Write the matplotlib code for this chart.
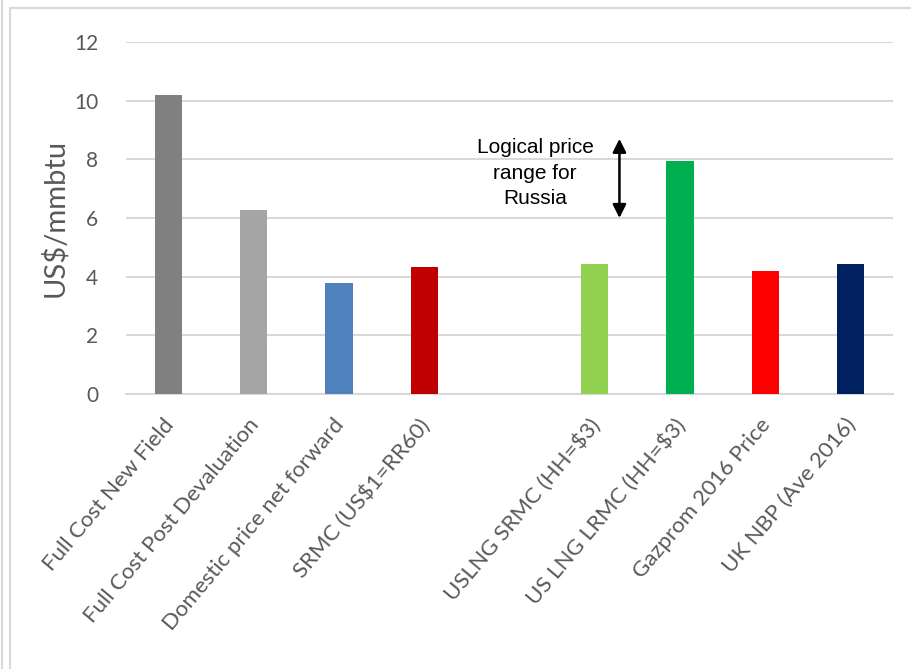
import matplotlib.pyplot as plt
import matplotlib.transforms as mtransforms
from matplotlib.patches import Rectangle
from matplotlib.lines import Line2D

labels = ['Full Cost New Field', 'Full Cost Post Devaluation', 'Domestic price net forward',
          'SRMC (US$1=RR60)', '', 'USLNG SRMC (HH=$3)', 'US LNG LRMC (HH=$3)',
          'Gazprom 2016 Price', 'UK NBP (Ave 2016)']
values = [10.2, 6.28, 3.79, 4.34, 0, 4.44, 7.95, 4.19, 4.44]
colors = ['#808080', '#a5a5a5', '#4f81bd', '#c00000', 'none',
          '#92d050', '#00b050', '#ff0000', '#002060']

arrow_x = 5.29
arrow_range = (6.0, 8.7)

plt.rcParams['font.family'] = ['Lato', 'DejaVu Sans']

fig = plt.figure(figsize=(9.11, 6.69), dpi=100)
ax = fig.add_axes([126/911, 1 - 394/669, (893 - 126)/911, (394 - 42)/669])

x = list(range(len(labels)))
ax.bar(x, values, width=0.32, color=colors, zorder=3)

ax.set_xlim(-0.5, len(labels) - 0.5)
ax.set_ylim(0, 12)
ax.set_yticks(range(0, 13, 2))
ax.grid(axis='y', color='#d9d9d9', linewidth=1.5, zorder=0)
for s in ['top', 'right', 'left']:
    ax.spines[s].set_visible(False)
ax.spines['bottom'].set_color('#d9d9d9')
ax.spines['bottom'].set_linewidth(1.5)
ax.tick_params(axis='both', length=0, colors='#595959')
ax.tick_params(axis='y', labelsize=15, pad=20)

ax.set_xticks(x)
ax.set_xticklabels(labels, rotation=50, ha='right', rotation_mode='anchor',
                   fontsize=16, color='#595959')
ax.tick_params(axis='x', pad=15)
shift = mtransforms.ScaledTranslation(-6/100, 0, fig.dpi_scale_trans)
for lbl in ax.get_xticklabels():
    lbl.set_transform(lbl.get_transform() + shift)
ax.set_ylabel('US$/mmbtu', fontsize=21, color='#595959', labelpad=4)

# arrow + note
ax.annotate('', xy=(arrow_x, arrow_range[1]), xytext=(arrow_x, arrow_range[0]),
            arrowprops=dict(arrowstyle='<|-|>', color='black', lw=1.8,
                            mutation_scale=20, shrinkA=0, shrinkB=0))
ax.text(4.3, 7.53, 'Logical price\nrange for\nRussia', ha='center', va='center',
        fontsize=15, family='Liberation Sans', linespacing=1.45)

# chart frame
fig.patches.append(Rectangle((10/911, -0.1), 1.0, 1 - 8/669 + 0.1, transform=fig.transFigure,
                             fill=False, edgecolor='#d9d9d9', linewidth=1.5))
fig.lines.append(Line2D([2/911, 2/911], [0, 1], transform=fig.transFigure,
                        color='#d9d9d9', linewidth=1.5))

fig.savefig('out.png', dpi=100)
